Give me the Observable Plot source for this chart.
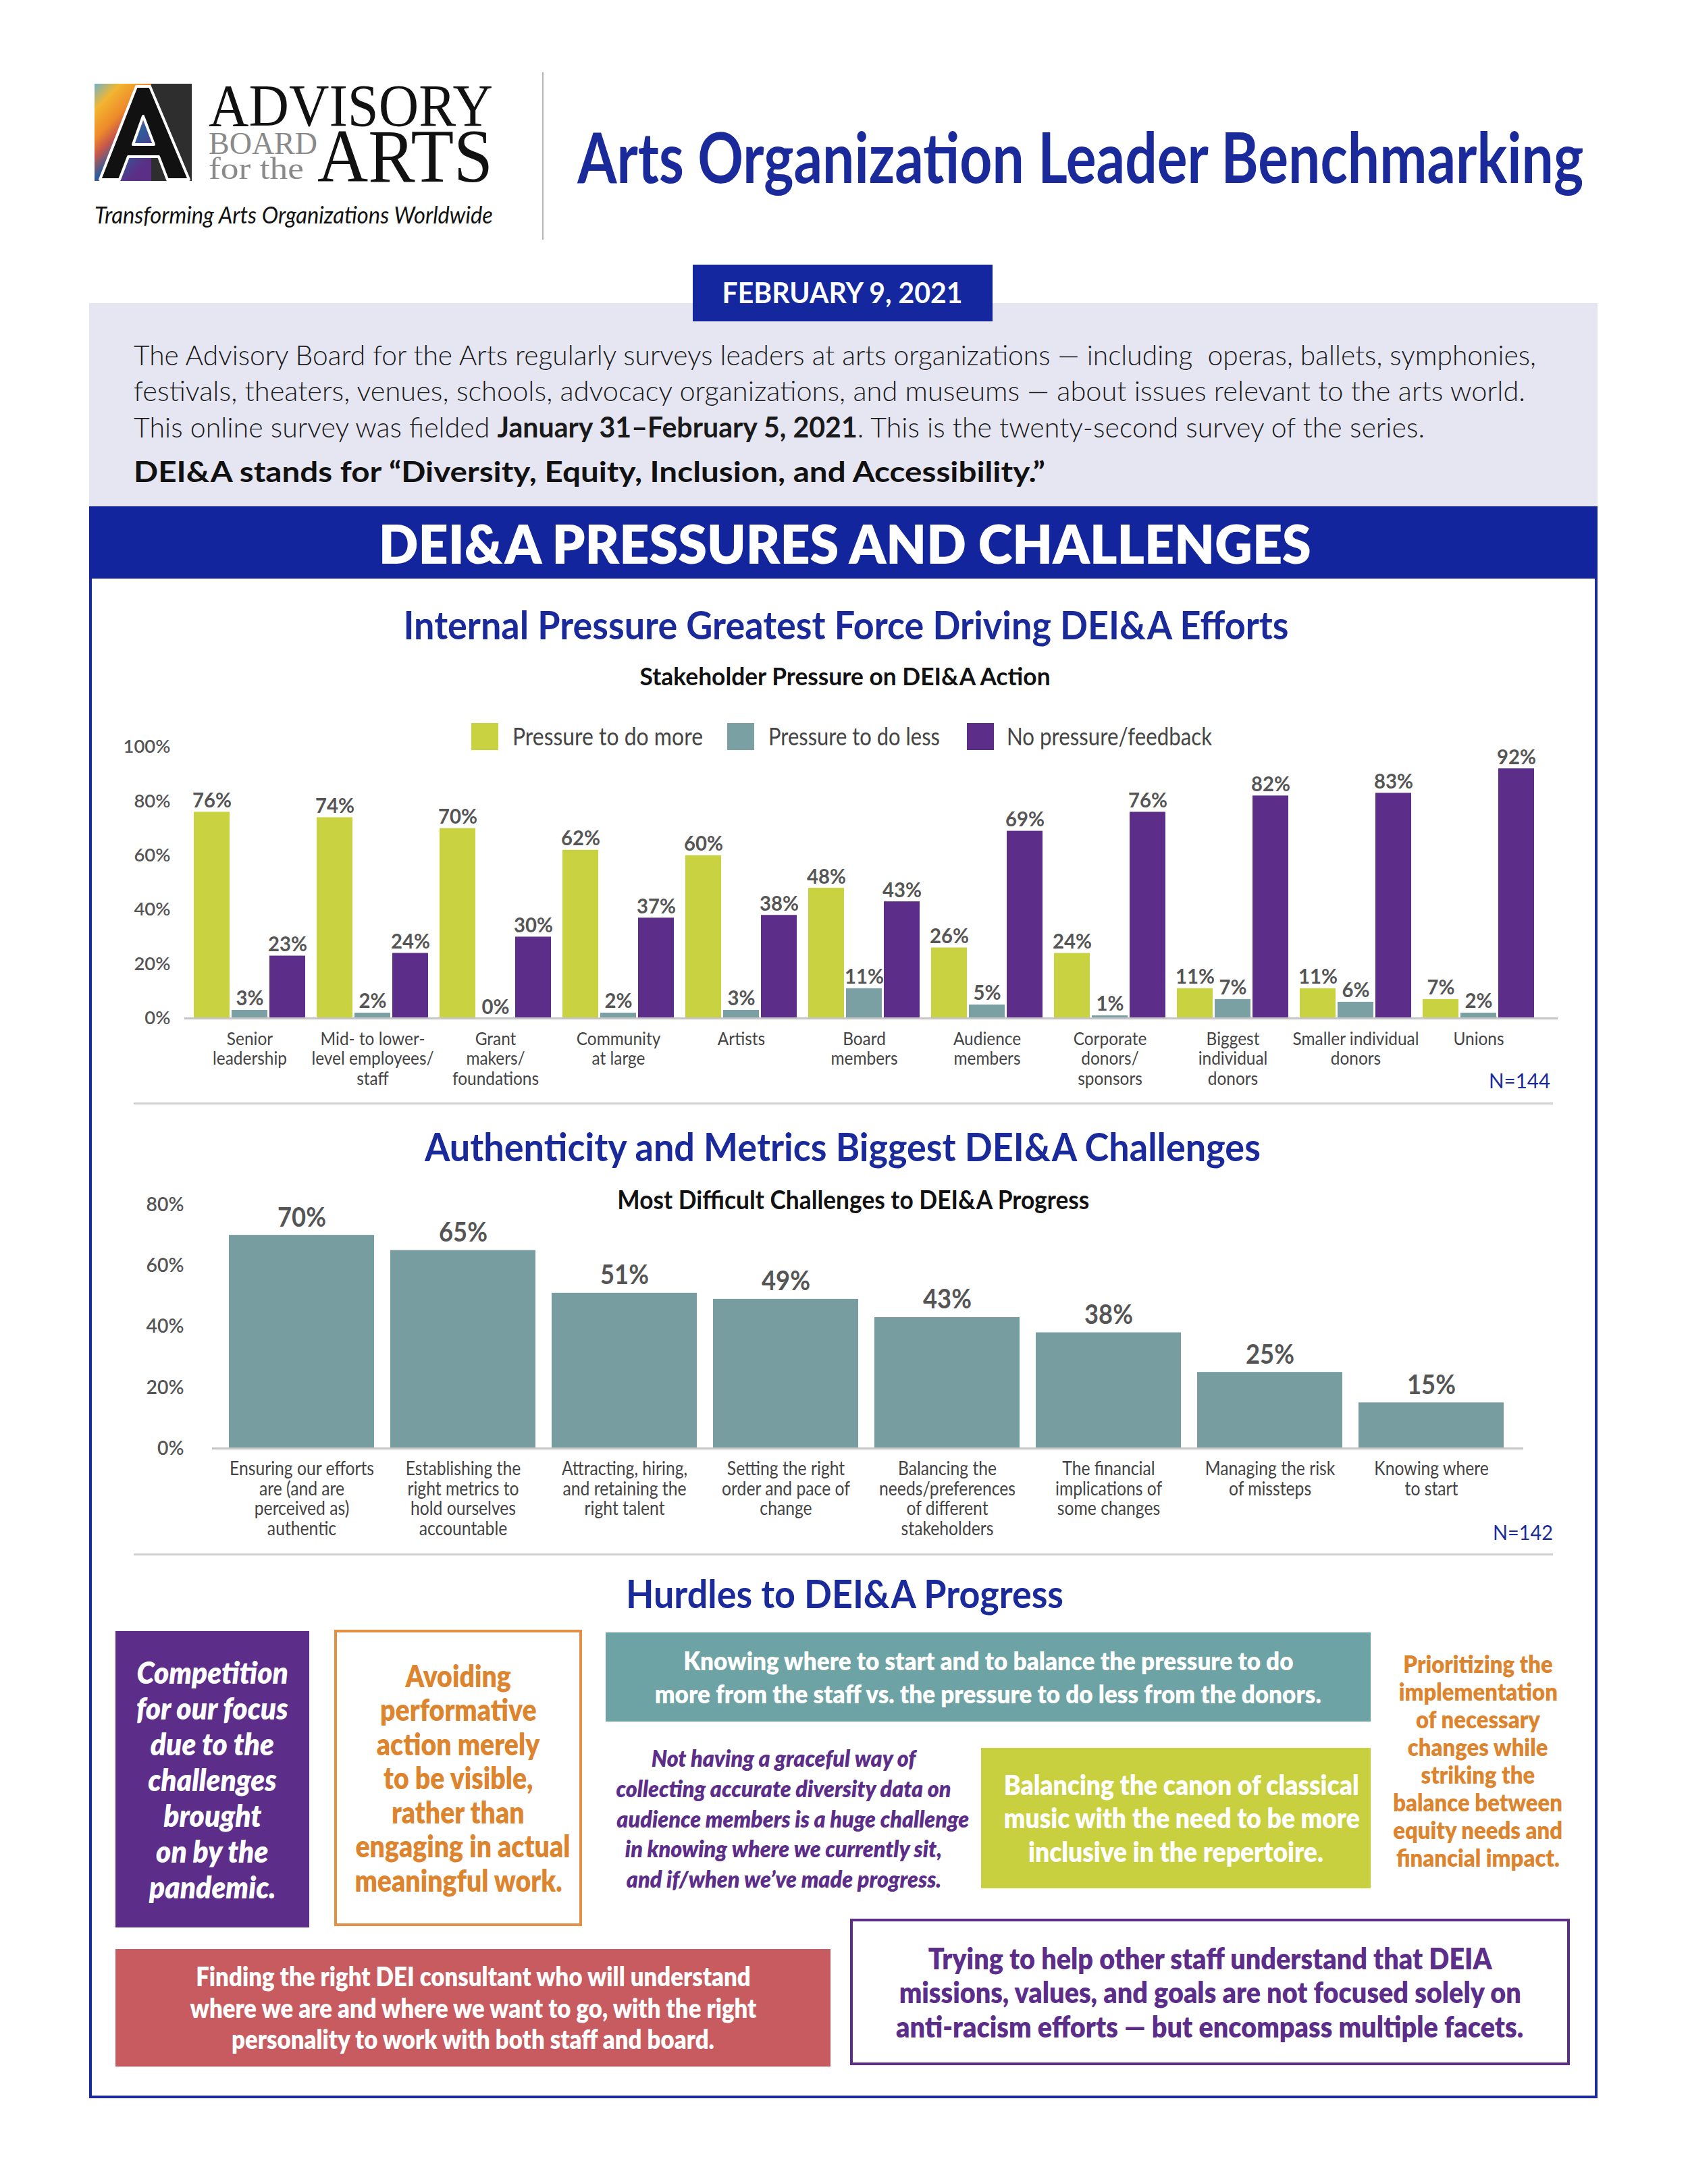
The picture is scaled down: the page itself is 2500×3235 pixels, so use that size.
<!DOCTYPE html>
<html><head><meta charset="utf-8">
<script src="https://cdn.jsdelivr.net/npm/d3@7"></script>
<script src="https://cdn.jsdelivr.net/npm/@observablehq/plot@0.6"></script>
<style>
html,body{margin:0;padding:0;background:#fff;}
#page{position:relative;width:2500px;height:3235px;overflow:hidden;font-family:Lato,"Open Sans",sans-serif;}
.fit{display:inline-block;white-space:nowrap;}
.box{position:absolute;box-sizing:border-box;display:flex;flex-direction:column;align-items:center;justify-content:center;text-align:center;}
.box > div{width:100%;text-align:center;}
.box .ln{display:inline-block;white-space:nowrap;transform-origin:center;}
.chart{position:absolute;left:0;}
.chart svg{overflow:visible;}
g[aria-label^="y-axis"] text{font-weight:600;}
</style>
</head><body><div id="page"></div>
<script>
// ---------- DATA ----------
const categories = ["Senior leadership","Mid- to lower-level employees/staff","Grant makers/foundations","Community at large","Artists","Board members","Audience members","Corporate donors/sponsors","Biggest individual donors","Smaller individual donors","Unions"];
const categoryLabels = ["Senior\nleadership","Mid- to lower-\nlevel employees/\nstaff","Grant\nmakers/\nfoundations","Community\nat large","Artists","Board\nmembers","Audience\nmembers","Corporate\ndonors/\nsponsors","Biggest\nindividual\ndonors","Smaller individual\ndonors","Unions"];
const seriesNames = ["Pressure to do more","Pressure to do less","No pressure/feedback"];
const doMore     = [76,74,70,62,60,48,26,24,11,11,7];
const doLess     = [3,2,0,2,3,11,5,1,7,6,2];
const noPressure = [23,24,30,37,38,43,69,76,82,83,92];
const yTicks1 = [0,20,40,60,80,100];

const challenges = ["Ensuring our efforts are (and are perceived as) authentic","Establishing the right metrics to hold ourselves accountable","Attracting, hiring, and retaining the right talent","Setting the right order and pace of change","Balancing the needs/preferences of different stakeholders","The financial implications of some changes","Managing the risk of missteps","Knowing where to start"];
const challengeLabels = ["Ensuring our efforts\nare (and are\nperceived as)\nauthentic","Establishing the\nright metrics to\nhold ourselves\naccountable","Attracting, hiring,\nand retaining the\nright talent","Setting the right\norder and pace of\nchange","Balancing the\nneeds/preferences\nof different\nstakeholders","The financial\nimplications of\nsome changes","Managing the risk\nof missteps","Knowing where\nto start"];
const challengeValues = [70,65,51,49,43,38,25,15];
const yTicks2 = [0,20,40,60,80];

const seriesColors = ["#c9d240","#7aa0a3","#5c2e8a"];
const challengeColor = "#789da0";

// ---------- helpers ----------
const page = document.getElementById('page');
const chartFont = "Lato, sans-serif";

function el(tag, css, html){const d=document.createElement(tag);if(css)d.style.cssText=css;if(html!=null)d.innerHTML=html;return d;}
function heading(html, cx, cy, size, targetW, style){
  const d = el('div', `position:absolute;left:${cx-1200}px;width:2400px;top:${cy-0.53*size}px;text-align:center;font-size:${size}px;line-height:1;${style||''}`);
  const s = el('span', 'transform-origin:center;', html); s.className='fit'; d.appendChild(s); page.appendChild(d);
  const w = s.getBoundingClientRect().width; s.style.transform=`scaleX(${targetW/w})`;
  return d;
}
function leftLine(html, x, cy, size, targetW, style){
  const d = el('div', `position:absolute;left:${x}px;top:${cy-0.53*size}px;font-size:${size}px;line-height:1;white-space:nowrap;${style||''}`);
  const s = el('span', 'transform-origin:left center;', html); s.className='fit'; d.appendChild(s); page.appendChild(d);
  const w = s.getBoundingClientRect().width; s.style.transform=`scaleX(${targetW/w})`;
  return d;
}
function makeBox(o){
  const b = el('div', `left:${o.x}px;top:${o.y}px;width:${o.w}px;height:${o.h}px;background:${o.bg||'transparent'};${o.border?`border:${o.border};`:''}color:${o.color};font-size:${o.size}px;line-height:${o.lh}px;font-weight:700;${o.style||''}`);
  b.className='box';
  const spans = o.lines.map(t=>{const row=el('div');const s=el('span',null,t);s.className='ln';row.appendChild(s);b.appendChild(row);return s;});
  page.appendChild(b);
  const mw = Math.max(...spans.map(s=>s.getBoundingClientRect().width));
  const k = o.target/mw; spans.forEach(s=>s.style.transform=`scaleX(${k})`);
  return b;
}
// condense a set of SVG text elements horizontally so that a reference text gets its measured width
function condenseTexts(texts, refText, target){
  if(!texts.length) return;
  const ref = texts.find(t=>t.textContent.startsWith(refText)) || texts[0];
  const k = target / ref.getBBox().width;
  texts.forEach(t=>{
    const tr = t.getAttribute('transform')||'';
    t.setAttribute('transform', tr + ` scale(${k},1)`);
    ['x','dx'].forEach(a=>{const v=t.getAttribute(a); if(v!=null && !isNaN(parseFloat(v)) && parseFloat(v)!==0) t.setAttribute(a, parseFloat(v)/k);});
  });
}
function markTexts(svg, isValue){
  return [...svg.querySelectorAll('g[aria-label="text"]')].filter(g=>{
    const t=g.querySelector('text'); if(!t) return false;
    const v=/^\d+%$/.test(t.textContent.trim()); return isValue?v:!v;
  }).flatMap(g=>[...g.querySelectorAll('text')]);
}
function axisTexts(svg){ return [...svg.querySelectorAll('g[aria-label^="y-axis"] text')]; }

// ---------- HEADER ----------
const NS="http://www.w3.org/2000/svg";
const logo = el('div','position:absolute;left:130px;top:100px;width:640px;height:200px;');
logo.innerHTML = `<svg xmlns="${NS}" width="640" height="200" viewBox="130 100 640 200" style="overflow:visible">
<defs><linearGradient id="lg" x1="0" y1="0" x2="0.6" y2="1">
<stop offset="0" stop-color="#6fb3c8"/><stop offset="0.2" stop-color="#f2b632"/><stop offset="0.42" stop-color="#ee8a2a"/>
<stop offset="0.55" stop-color="#c9574a"/><stop offset="0.72" stop-color="#2e5d9c"/><stop offset="1" stop-color="#5b2f86"/></linearGradient></defs>
<rect x="140" y="124" width="84" height="144" fill="url(#lg)"/>
<rect x="224" y="124" width="60" height="144" fill="#2e2e2e"/>
<path d="M202 128 L222 128 L280 266 L248 266 L235 232 L190 232 L177 266 L148 266 Z M197 214 L228 214 L212 172 Z" fill="#111" fill-rule="evenodd" stroke="#fff" stroke-width="4" stroke-linejoin="round"/>
<text font-family="Liberation Serif, serif">
<tspan x="309" y="186" font-size="88" fill="#111" textLength="421" lengthAdjust="spacingAndGlyphs">ADVISORY</tspan>
<tspan x="309" y="228" font-size="46" fill="#8a8a8a" textLength="161" lengthAdjust="spacingAndGlyphs">BOARD</tspan>
<tspan x="309" y="265" font-size="46" fill="#8a8a8a" textLength="141" lengthAdjust="spacingAndGlyphs">for the</tspan>
<tspan x="470" y="269" font-size="112" fill="#111" textLength="260" lengthAdjust="spacingAndGlyphs">ARTS</tspan>
</text></svg>`;
page.appendChild(logo);
leftLine('Transforming Arts Organizations Worldwide', 140, 319, 34, 590, "font-style:italic;color:#111;");
page.appendChild(el('div','position:absolute;left:803px;top:107px;width:2px;height:248px;background:#b5b5b5;'));
heading('Arts Organization Leader Benchmarking', 1600, 235, 103, 1490, 'color:#1b2a9a;font-weight:700;');

// date badge + intro box
page.appendChild(el('div','position:absolute;left:132px;top:449px;width:2234px;height:301px;background:#e5e6f2;'));
page.appendChild(el('div','position:absolute;left:1026px;top:392px;width:444px;height:84px;background:#14279f;'));
heading('FEBRUARY 9, 2021', 1248, 434, 42, 356, 'color:#fff;font-weight:700;');
const introStyle = 'color:#1a1a1a;font-weight:300;';
leftLine('The Advisory Board for the Arts regularly surveys leaders at arts organizations — including&nbsp; operas, ballets, symphonies,', 198, 526, 42, 2077, introStyle);
leftLine('festivals, theaters, venues, schools, advocacy organizations, and museums — about issues relevant to the arts world.', 198, 579, 42, 2061, introStyle);
leftLine('This online survey was fielded <b style="font-weight:700">January 31–February 5, 2021</b>. This is the twenty-second survey of the series.', 198, 633, 42, 1912, introStyle);
leftLine('DEI&amp;A stands for “Diversity, Equity, Inclusion, and Accessibility.”', 198, 699, 42, 1350, 'color:#111;font-weight:700;');

// section band + outer frame
page.appendChild(el('div','position:absolute;left:132px;top:750px;width:2234px;height:2358px;box-sizing:border-box;border:4px solid #1b2a9a;'));
page.appendChild(el('div','position:absolute;left:132px;top:750px;width:2234px;height:107px;background:#13259c;'));
heading('DEI&amp;A PRESSURES AND CHALLENGES', 1251, 806, 80, 1381, 'color:#fff;font-weight:800;');

// ---------- CHART 1 ----------
heading('Internal Pressure Greatest Force Driving DEI&amp;A Efforts', 1253, 927, 58, 1311, 'color:#1b2a9a;font-weight:700;');
heading('Stakeholder Pressure on DEI&amp;A Action', 1252, 1002, 36, 608, 'color:#111;font-weight:700;');

const rows1 = categories.flatMap((c,i)=>seriesNames.map((s,j)=>({category:c, series:s, si:j, value:[doMore,doLess,noPressure][j][i]})));
const inset = 56;
const c1marks = [];
seriesNames.forEach((s,j)=>{
  const data = rows1.filter(r=>r.si===j);
  c1marks.push(Plot.barY(data,{x:"category", y:"value", fill:seriesColors[j], insetLeft:j*inset, insetRight:(2-j)*inset}));
});
c1marks.push(Plot.ruleY([0],{stroke:"#c4c4c4", strokeWidth:3}));
seriesNames.forEach((s,j)=>{
  const data = rows1.filter(r=>r.si===j);
  c1marks.push(Plot.text(data,{x:"category", y:"value", text:d=>d.value+"%", dx:(j-1)*inset, dy:-7, lineAnchor:"bottom", fontSize:31, fontWeight:700, fill:"#555"}));
});
c1marks.push(Plot.text(categories,{x:d=>d, text:(d,i)=>categoryLabels[i], frameAnchor:"bottom", lineAnchor:"top", dy:19, fontSize:27, fill:"#444", lineHeight:1.08}));

const chart1 = Plot.plot({
  width:2500, height:545, marginLeft:273, marginRight:193, marginTop:26, marginBottom:117,
  style:{fontFamily:chartFont, fontSize:"27px", color:"#555", background:"transparent", overflow:"visible"},
  x:{domain:categories, paddingInner:0.0934, paddingOuter:0.1346, align:0.286, axis:null},
  y:{domain:[0,100], ticks:yTicks1, tickFormat:d=>d+"%", tickSize:0, tickPadding:21, label:null},
  marks:c1marks
});
const w1 = el('div','top:1080px;'); w1.className='chart'; w1.appendChild(chart1); page.appendChild(w1);
condenseTexts(markTexts(chart1,false), "Smaller individual", 187);
condenseTexts(markTexts(chart1,true), "76%", 58);
condenseTexts(axisTexts(chart1), "100%", 70);

// legend
const legX = [[698,759,282],[1077,1138,254],[1432,1491,304]];
seriesNames.forEach((s,j)=>{
  page.appendChild(el('div',`position:absolute;left:${legX[j][0]}px;top:1071px;width:40px;height:40px;background:${seriesColors[j]};`));
  leftLine(s, legX[j][1], 1091, 37, legX[j][2], `color:#444;font-family:${chartFont};`);
});
leftLine('N=144', 2205, 1601, 31, 91, `color:#1b2a9a;font-family:${chartFont};`);
page.appendChild(el('div','position:absolute;left:198px;top:1633px;width:2102px;height:3px;background:#d0d0d0;'));

// ---------- CHART 2 ----------
heading('Authenticity and Metrics Biggest DEI&amp;A Challenges', 1248, 1700, 58, 1238, 'color:#1b2a9a;font-weight:700;');

const rows2 = challenges.map((c,i)=>({challenge:c, value:challengeValues[i], label:challengeLabels[i]}));
const chart2 = Plot.plot({
  width:2500, height:540, marginLeft:314, marginRight:244, marginTop:34, marginBottom:145,
  style:{fontFamily:chartFont, fontSize:"29px", color:"#555", background:"transparent", overflow:"visible"},
  x:{domain:challenges, paddingInner:0.1, paddingOuter:0.096, align:0.46, axis:null},
  y:{domain:[0,80], ticks:yTicks2, tickFormat:d=>d+"%", tickSize:0, tickPadding:42, label:null},
  marks:[
    Plot.barY(rows2,{x:"challenge", y:"value", fill:challengeColor}),
    Plot.ruleY([0],{stroke:"#c4c4c4", strokeWidth:3}),
    Plot.text(rows2,{x:"challenge", y:"value", text:d=>d.value+"%", dy:-13, lineAnchor:"bottom", fontSize:41, fontWeight:700, fill:"#555"}),
    Plot.text(rows2,{x:"challenge", text:"label", frameAnchor:"bottom", lineAnchor:"top", dy:19, fontSize:28, fill:"#444", lineHeight:1.05})
  ]
});
const w2 = el('div','top:1750px;'); w2.className='chart'; w2.appendChild(chart2); page.appendChild(w2);
condenseTexts(markTexts(chart2,false), "Balancing the", 202);
condenseTexts(markTexts(chart2,true), "70%", 72);
condenseTexts(axisTexts(chart2), "80%", 56);
heading('Most Difficult Challenges to DEI&amp;A Progress', 1264, 1777, 38, 699, 'color:#111;font-weight:700;');
leftLine('N=142', 2211, 2270, 31, 89, `color:#1b2a9a;font-family:${chartFont};`);
page.appendChild(el('div','position:absolute;left:198px;top:2301px;width:2102px;height:3px;background:#d0d0d0;'));

// ---------- HURDLES ----------
heading('Hurdles to DEI&amp;A Progress', 1251, 2362, 58, 648, 'color:#1b2a9a;font-weight:700;');
const purple="#5c2e8a", orange="#dd842e";
makeBox({x:171,y:2416,w:287,h:439,bg:purple,color:"#fff",size:46,lh:53,target:225,style:"font-style:italic;font-weight:800;",
  lines:["Competition","for our focus","due to the","challenges","brought","on by the","pandemic."]});
makeBox({x:495,y:2414,w:367,h:439,border:`4px solid #e39046`,color:orange,size:46,lh:50.5,target:318,style:"font-weight:800;",
  lines:["Avoiding","performative","action merely","to be visible,","rather than","engaging in actual","meaningful work."]});
makeBox({x:897,y:2418,w:1133,h:132,bg:"#6ea3a5",color:"#fff",size:38,lh:49,target:987,style:"font-weight:800;",
  lines:["Knowing where to start and to balance the pressure to do","more from the staff vs. the pressure to do less from the donors."]});
makeBox({x:899,y:2582,w:523,h:224,color:purple,size:34,lh:44.7,target:522,style:"font-style:italic;font-weight:800;",
  lines:["Not having a graceful way of","collecting accurate diversity data on","audience members is a huge challenge","in knowing where we currently sit,","and if/when we’ve made progress."]});
makeBox({x:1453,y:2589,w:577,h:208,bg:"#c8d03f",color:"#fff",size:42,lh:49.5,target:527,style:"font-weight:800;",
  lines:["Balancing the canon of classical","music with the need to be more","inclusive in the repertoire."]});
makeBox({x:2039,y:2444,w:300,h:328,color:orange,size:35,lh:41,target:251,style:"font-weight:800;",
  lines:["Prioritizing the","implementation","of necessary","changes while","striking the","balance between","equity needs and","financial impact."]});
makeBox({x:171,y:2887,w:1059,h:174,bg:"#c75b60",color:"#fff",size:40,lh:46.5,target:839,style:"font-weight:800;",
  lines:["Finding the right DEI consultant who will understand","where we are and where we want to go, with the right","personality to work with both staff and board."]});
makeBox({x:1259,y:2842,w:1066,h:217,border:`4px solid ${purple}`,color:purple,size:44,lh:50.5,target:929,style:"font-weight:800;",
  lines:["Trying to help other staff understand that DEIA","missions, values, and goals are not focused solely on","anti-racism efforts — but encompass multiple facets."]});
</script>
</body></html>
